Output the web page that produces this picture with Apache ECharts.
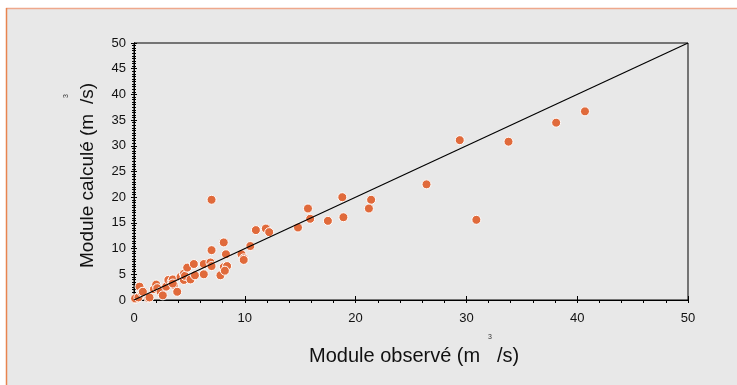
<!DOCTYPE html>
<html>
<head>
<meta charset="utf-8">
<script src="https://cdn.jsdelivr.net/npm/echarts@6/dist/echarts.min.js"></script>
<style>
  html, body { margin: 0; padding: 0; background: #fff; }
  #chart { width: 737px; height: 385px; }
</style>
</head>
<body>
<div id="chart"></div>
<script>
// module observé / module calculé (m3/s)
const observed = [0.15, 0.1, 0.4, 1.3, 1.4, 0.5, 0.7, 0.8, 1.8, 2.0, 2.1, 2.4, 2.6, 2.9, 3.1, 3.4, 3.5, 3.6, 3.9, 3.5,
  4.2, 4.5, 4.5, 4.6, 4.8, 5.1, 5.5, 5.4, 6.3, 6.3, 6.9, 7.0, 7.8, 8.1, 8.4, 8.2, 8.3, 8.1, 7.0, 7.0,
  9.7, 9.9, 9.9, 10.5, 11.0, 11.9, 12.2, 14.8, 15.7, 15.9, 17.5, 18.8, 18.9, 21.4, 21.2,
  26.4, 29.4, 30.9, 33.8, 38.1, 40.7]
const computed = [0.2, 0.3, 0.5, 0.4, 0.5, 2.6, 1.5, 1.6, 2.1, 3.0, 2.3, 1.6, 0.9, 2.6, 3.9, 3.6, 4.0, 2.9, 1.6, 3.2,
  4.5, 3.9, 5.1, 4.7, 6.3, 4.0, 4.8, 7.0, 5.0, 7.0, 7.3, 6.6, 4.8, 6.4, 6.6, 5.7, 8.9, 11.2, 9.7, 19.5,
  8.9, 8.1, 7.8, 10.5, 13.6, 13.9, 13.2, 14.1, 17.8, 15.8, 15.4, 20.0, 16.1, 19.5, 17.8,
  22.5, 31.1, 15.6, 30.8, 34.5, 36.7]
const lineOneToOne = [[0, 0], [50, 50]]

const points = observed.map((x, i) => [x, computed[i]])

const chart = echarts.init(document.getElementById('chart'))

const font = 'Liberation Sans, Arial, sans-serif'
const axisBase = {
  type: 'value',
  min: 0,
  max: 50,
  axisLine: { show: true, lineStyle: { color: '#000', width: 1 } },
  splitLine: { show: false }
}

chart.setOption({
  animation: false,
  backgroundColor: '#fff',
  grid: {
    left: 134, right: 49, top: 43, bottom: 85,
    show: true, borderColor: '#000', borderWidth: 1, backgroundColor: 'transparent'
  },
  graphic: [
    { type: 'rect', z: -10, shape: { x: 6, y: 8, width: 731, height: 377 }, style: { fill: '#e8e8e8' } },
    { type: 'line', z: -9, shape: { x1: 6, y1: 8.5, x2: 737, y2: 8.5 }, style: { stroke: '#eea88c', lineWidth: 1.5 } },
    { type: 'line', z: -9, shape: { x1: 6.5, y1: 8, x2: 6.5, y2: 385 }, style: { stroke: '#e8844f', lineWidth: 1.5 } },
    // titre axe X
    { type: 'text', x: 309, y: 356, style: { text: 'Module observé (m', font: '20px ' + font, fill: '#111', textAlign: 'left', textVerticalAlign: 'middle' } },
    { type: 'text', x: 497, y: 356, style: { text: '/s)', font: '20px ' + font, fill: '#111', textAlign: 'left', textVerticalAlign: 'middle' } },
    { type: 'text', x: 490, y: 337, style: { text: '3', font: '7px ' + font, fill: '#333', textAlign: 'center', textVerticalAlign: 'middle' } },
    // titre axe Y
    { type: 'text', x: 88, y: 268, rotation: Math.PI / 2, style: { text: 'Module calculé (m', font: '19px ' + font, fill: '#111', textAlign: 'left', textVerticalAlign: 'middle' } },
    { type: 'text', x: 88, y: 104, rotation: Math.PI / 2, style: { text: '/s)', font: '19px ' + font, fill: '#111', textAlign: 'left', textVerticalAlign: 'middle' } },
    { type: 'text', x: 66, y: 96, rotation: Math.PI / 2, style: { text: '3', font: '7px ' + font, fill: '#333', textAlign: 'center', textVerticalAlign: 'middle' } }
  ],
  xAxis: [
    {
      ...axisBase,
      interval: 10,
      axisTick: { show: true, length: 3, lineStyle: { color: '#000' } },
      minorTick: { show: true, splitNumber: 5, length: 3, lineStyle: { color: '#000' } },
      axisLabel: { fontSize: 13, fontFamily: font, color: '#111', margin: 12 }
    },
    {
      ...axisBase,
      position: 'bottom',
      interval: 10,
      axisTick: { show: true, inside: true, length: 4, lineStyle: { color: '#000' } },
      axisLabel: { show: false }
    }
  ],
  yAxis: [
    {
      ...axisBase,
      interval: 5,
      axisTick: { show: true, length: 3, lineStyle: { color: '#000' } },
      minorTick: { show: true, splitNumber: 10, length: 2, lineStyle: { color: '#000' } },
      axisLabel: { fontSize: 13, fontFamily: font, color: '#111', margin: 8 }
    },
    {
      ...axisBase,
      position: 'left',
      interval: 5,
      axisTick: { show: true, inside: true, length: 3, lineStyle: { color: '#000' } },
      minorTick: { show: true, splitNumber: 10, length: 2, lineStyle: { color: '#000' } },
      axisLabel: { show: false }
    }
  ],
  series: [
    {
      type: 'scatter',
      data: points,
      symbolSize: 9,
      itemStyle: { color: '#e06a3b', borderColor: '#fff', borderWidth: 1, opacity: 1 },
      z: 2
    },
    {
      type: 'line',
      data: lineOneToOne,
      showSymbol: false,
      symbol: 'none',
      lineStyle: { color: '#000', width: 1.2 },
      z: 3
    }
  ]
})
</script>
</body>
</html>
